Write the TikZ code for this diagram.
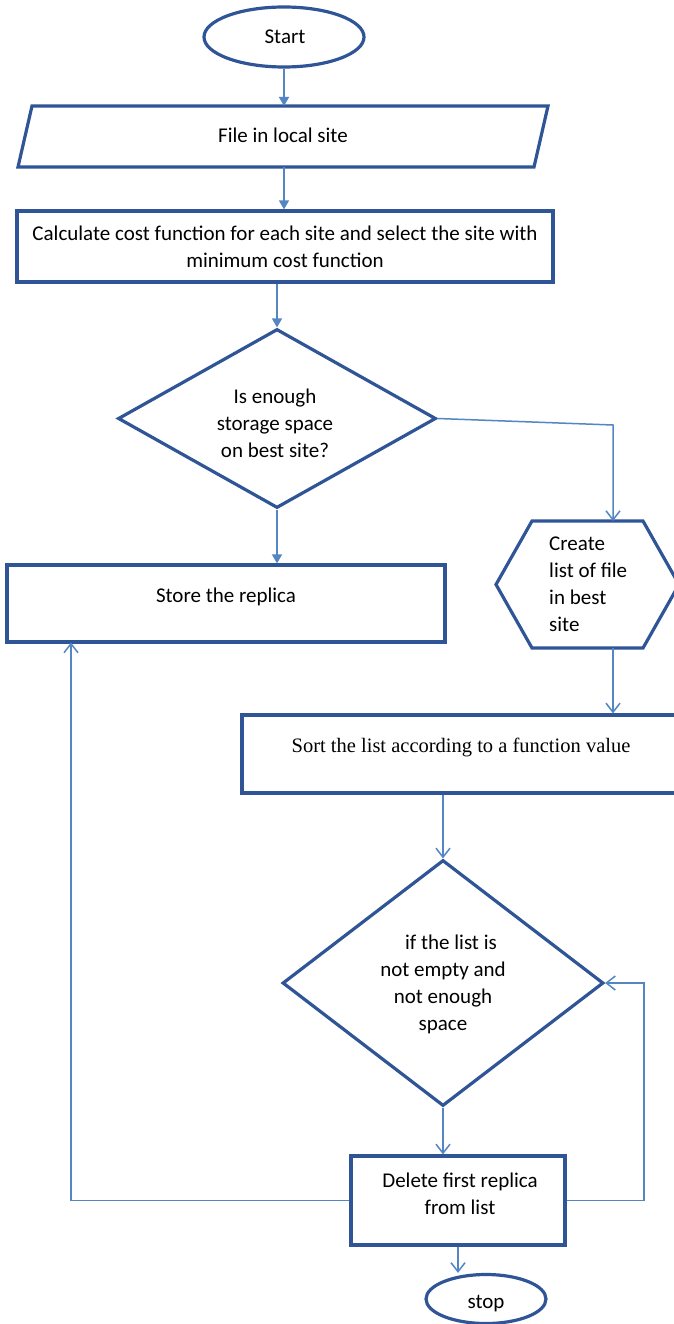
\documentclass[tikz,border=0pt]{standalone}
\usepackage{fontspec}
\setmainfont{Carlito}
\newfontfamily\timesf{Liberation Serif}
\usetikzlibrary{shapes.geometric,arrows.meta}
\definecolor{bord}{RGB}{47,85,151}
\definecolor{conn}{RGB}{84,134,196}
\begin{document}
\begin{tikzpicture}[x=1pt,y=-1pt,
  shapebox/.style={draw=bord,line width=3.2pt,inner sep=0pt,fill=white},
  outline/.style={draw=bord,line width=3.2pt,fill=white,line join=miter},
  txt/.style={font=\fontsize{21}{27}\selectfont,align=center,inner sep=0pt},
  conline/.style={draw=conn,line width=1.5pt},
  fillarr/.style={conline,-{Triangle[width=10pt,length=9pt]}},
  openarr/.style={conline,-{Straight Barb[width=14pt,length=9pt,line width=1.5pt]}}
]
\useasboundingbox (0,0) rectangle (674,1324);
\clip (0,0) rectangle (674,1324);
\fill[white] (0,0) rectangle (674,1324);

% shapes
\node[shapebox,ellipse,minimum width=160pt,minimum height=60pt] (start) at (284,37) {};
\draw[outline] (32,106) -- (548,106) -- (534,167) -- (18,167) -- cycle;
\node[shapebox,rectangle,minimum width=536pt,minimum height=71pt] (calc) at (285,246.5) {};
\node[shapebox,diamond,minimum width=318pt,minimum height=179pt] (d1) at (277,418.5) {};
\node[shapebox,rectangle,minimum width=438pt,minimum height=77pt] (store) at (226,603.5) {};
\draw[outline]
  (532,521) -- (643,521) -- (679,584.5) -- (643,648) -- (532,648) -- (496,584.5) -- cycle;
\node[shapebox,rectangle,minimum width=438pt,minimum height=78pt] (sort) at (461,754) {};
\node[shapebox,diamond,minimum width=321pt,minimum height=246pt] (d2) at (443,983) {};
\node[shapebox,rectangle,minimum width=214pt,minimum height=89pt] (del) at (458,1200.5) {};
\node[shapebox,ellipse,minimum width=120pt,minimum height=49pt] (stop) at (486,1299) {};

% texts
\node[txt] (tstart) at (285,37) {Start};
\node[txt] (file) at (283,135) {File in local site};
\node[txt] (tcalc) at (285,247) {Calculate cost function for each site and select the site with\\minimum cost function};
\node[txt] (td1) at (275,423) {Is enough\\storage space\\on best site?};
\node[txt] (tstore) at (226,597) {Store the replica};
\node[txt,align=left,anchor=west] (thex) at (549,584) {Create\\list of file\\in best\\site};
\node[txt,font=\timesf\fontsize{20.5}{25}\selectfont] (tsort) at (461,747) {Sort the list according to a function value};
\node[txt] (td2) at (443,984.5) {\hspace*{16pt}if the list is\\not empty and\\not enough\\space};
\node[txt] (tdel) at (460,1194) {Delete first replica\\from list};
\node[txt] (tstop) at (486,1304) {stop};

% connector points
\coordinate (fileT) at (284,106);
\coordinate (fileB) at (284,167);
\coordinate (hexT) at (613,521);
\coordinate (hexB) at (613,648);
\coordinate (bendA) at (613,425);
\coordinate (loopR) at (644,983);
\coordinate (storeIn) at (71,642.5);

% connectors
\draw[fillarr] (start.south) -- (fileT);
\draw[fillarr] (fileB) -- (fileB |- calc.north);
\draw[fillarr] (d1.north |- calc.south) -- (d1.north);
\draw[fillarr] (d1.south) -- (d1.south |- store.north);
\draw[openarr] (d1.east) -- (bendA) -- (hexT);
\draw[openarr] (hexB) -- (hexB |- sort.north);
\draw[openarr] (sort.south -| d2.north) -- (d2.north);
\draw[openarr] (d2.south) -- (d2.south |- del.north);
\draw[openarr] (del.east) -| (loopR) -- (d2.east);
\draw[openarr] (del.west) -| (storeIn);
\draw[openarr] (del.south) -- (del.south |- stop.north);
\end{tikzpicture}
\end{document}
